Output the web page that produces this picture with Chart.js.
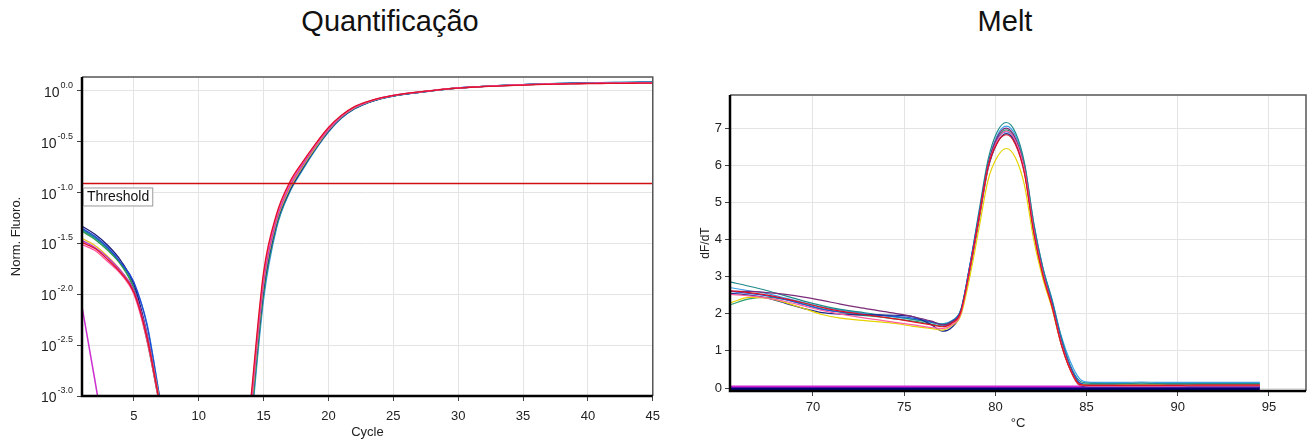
<!DOCTYPE html>
<html><head><meta charset="utf-8">
<script src="https://cdn.jsdelivr.net/npm/chart.js@4.4.1/dist/chart.umd.min.js"></script>
<style>
html,body{margin:0;padding:0;background:#fff;width:1314px;height:443px;overflow:hidden;font-family:"Liberation Sans",Arial,sans-serif;}
#c1{position:absolute;left:0;top:0;}
#c2{position:absolute;left:690px;top:0;}
.title{position:absolute;top:4px;font-size:29px;line-height:34px;color:#111;transform:translateX(-50%);white-space:nowrap;}
</style></head><body>
<div class="title" style="left:390px">Quantificação</div>
<div class="title" style="left:1005px">Melt</div>
<canvas id="c1" width="668" height="443"></canvas>
<canvas id="c2" width="624" height="443"></canvas>
<script>
// ---------- Quantificação (log10 of normalised fluorescence per cycle) ----------
const cycles = [1,2,3,4,5,6,7,8,9,10,11,12,13,14,15,16,17,18,19,20,21,22,23,24,25,26,27,28,29,30,31,32,33,34,35,36,37,38,39,40,41,42,43,44,45];
const cycleTicks = [5,10,15,20,25,30,35,40,45];
const quantTickValues = [-3,-2.5,-2,-1.5,-1,-0.5,0];
const quantTickExponents = ['-3.0','-2.5','-2.0','-1.5','-1.0','-0.5','0.0'];
const thresholdLevel = -0.91;
const thresholdLabel = 'Threshold';

const qRed = [-1.49,-1.55,-1.66,-1.79,-1.98,-2.42,-3.08,null,null,null,null,null,null,-3.05,-1.78,-1.21,-0.9,-0.7,-0.52,-0.36,-0.24,-0.155,-0.105,-0.068,-0.043,-0.024,-0.01,0.004,0.018,0.028,0.036,0.042,0.048,0.053,0.058,0.062,0.065,0.068,0.07,0.072,0.073,0.074,0.075,0.076,0.077];
const qPink = [-1.51,-1.57,-1.68,-1.8,-2.0,-2.45,-3.1,null,null,null,null,null,null,-3.1,-1.82,-1.23,-0.92,-0.71,-0.53,-0.37,-0.245,-0.16,-0.108,-0.07,-0.044,-0.025,-0.01,0.005,0.019,0.03,0.038,0.045,0.05,0.056,0.061,0.065,0.068,0.071,0.073,0.075,0.076,0.077,0.078,0.079,0.08];
const qMagenta = [-1.47,-1.54,-1.64,-1.77,-1.96,-2.4,-3.08,null,null,null,null,null,null,-3.15,-1.87,-1.26,-0.94,-0.73,-0.54,-0.38,-0.25,-0.162,-0.11,-0.071,-0.045,-0.026,-0.011,0.004,0.018,0.029,0.037,0.044,0.05,0.055,0.06,0.064,0.067,0.07,0.072,0.074,0.076,0.077,0.078,0.079,0.08];
const qBlue = [-1.35,-1.43,-1.54,-1.69,-1.88,-2.3,-3.02,null,null,null,null,null,null,-3.2,-1.92,-1.29,-0.97,-0.75,-0.56,-0.39,-0.26,-0.17,-0.115,-0.075,-0.048,-0.028,-0.012,0.003,0.018,0.03,0.038,0.045,0.052,0.057,0.062,0.066,0.07,0.073,0.075,0.077,0.079,0.08,0.082,0.083,0.085];
const qNavy = [-1.33,-1.41,-1.52,-1.67,-1.9,-2.38,-3.05,null,null,null,null,null,null,-3.2,-1.94,-1.3,-0.98,-0.76,-0.565,-0.395,-0.262,-0.172,-0.116,-0.076,-0.049,-0.029,-0.013,0.002,0.017,0.029,0.037,0.044,0.051,0.056,0.061,0.065,0.069,0.072,0.074,0.076,0.078,0.079,0.08,0.081,0.082];
const qTeal = [-1.36,-1.44,-1.55,-1.7,-1.93,-2.42,-3.1,null,null,null,null,null,null,-3.3,-2.0,-1.33,-0.99,-0.77,-0.57,-0.4,-0.265,-0.175,-0.118,-0.077,-0.05,-0.03,-0.014,0.001,0.016,0.028,0.037,0.045,0.052,0.058,0.063,0.067,0.071,0.074,0.077,0.079,0.081,0.083,0.085,0.086,0.088];
const qGreen = [-1.38,-1.46,-1.57,-1.71,-1.95,-2.45,-3.1,null,null,null,null,null,null,-3.25,-1.97,-1.31,-0.98,-0.76,-0.565,-0.395,-0.26,-0.17,-0.115,-0.075,-0.048,-0.028,-0.012,0.003,0.017,0.029,0.037,0.044,0.05,0.055,0.06,0.064,0.068,0.071,0.073,0.075,0.077,0.078,0.079,0.08,0.081];
const qLightBlue = [-1.37,-1.45,-1.56,-1.7,-1.9,-2.28,-3.02,null,null,null,null,null,null,-3.35,-2.05,-1.35,-1.0,-0.78,-0.58,-0.405,-0.27,-0.178,-0.12,-0.079,-0.051,-0.031,-0.015,0.0,0.015,0.027,0.036,0.044,0.051,0.057,0.062,0.067,0.071,0.075,0.078,0.08,0.082,0.084,0.086,0.088,0.09];
const qYellow = [-1.45,-1.52,-1.63,-1.77,-1.97,-2.4,-3.05,null,null,null,null,null,null,-3.2,-1.9,-1.28,-0.96,-0.745,-0.555,-0.385,-0.255,-0.167,-0.113,-0.073,-0.047,-0.027,-0.012,0.003,0.018,0.029,0.037,0.044,0.05,0.055,0.06,0.064,0.067,0.07,0.072,0.074,0.075,0.076,0.077,0.078,0.079];
const qNTC = [-2.12,-2.85,-3.6];

// ---------- Melt (dF/dT vs temperature) ----------
const temps = [65.5,66.5,67.5,68.5,69.5,70.5,71.5,72.5,73.5,74.5,75.5,76.5,77.1,77.6,78.1,78.6,79.1,79.6,80.1,80.6,81.1,81.6,82.1,82.6,83.1,83.6,84.1,84.6,85.1,86,87,88,89,90,91,92,93,94.5];
const tempTicks = [70,75,80,85,90,95];
const meltTickValues = [0,1,2,3,4,5,6,7];

const mTeal = [2.85,2.74,2.62,2.48,2.34,2.22,2.12,2.05,1.98,1.92,1.85,1.77,1.72,1.8,2.1,3.3,4.75,6.15,6.9,7.15,6.88,6.05,4.45,3.25,2.38,1.38,0.62,0.2,0.13,0.12,0.12,0.13,0.12,0.12,0.12,0.12,0.12,0.12];
const mPurple = [2.6,2.6,2.57,2.52,2.45,2.36,2.26,2.17,2.09,2.01,1.92,1.8,1.7,1.78,2.05,3.2,4.6,6.0,6.75,7.0,6.72,5.9,4.3,3.12,2.26,1.26,0.54,0.12,0.07,0.07,0.07,0.07,0.07,0.07,0.07,0.07,0.07,0.07];
const mNavy = [2.55,2.5,2.42,2.28,2.14,2.03,1.99,1.97,1.97,1.96,1.92,1.7,1.53,1.63,2.0,3.15,4.5,5.9,6.6,6.85,6.6,5.8,4.2,3.05,2.2,1.2,0.5,0.08,0.03,0.03,0.03,0.03,0.03,0.03,0.03,0.03,0.03,0.03];
const mYellow = [2.3,2.44,2.42,2.3,2.14,1.98,1.88,1.83,1.79,1.74,1.66,1.6,1.56,1.68,1.95,3.0,4.3,5.6,6.22,6.45,6.2,5.45,4.0,2.95,2.15,1.2,0.5,0.1,0.07,0.07,0.08,0.08,0.08,0.07,0.07,0.07,0.07,0.07];
const mGreen = [2.25,2.4,2.44,2.38,2.26,2.13,2.04,1.97,1.92,1.86,1.8,1.72,1.67,1.76,2.05,3.2,4.6,6.0,6.7,6.95,6.7,5.9,4.3,3.1,2.25,1.28,0.55,0.14,0.1,0.1,0.1,0.1,0.1,0.1,0.1,0.1,0.1,0.1];
const mRed = [2.62,2.57,2.5,2.4,2.29,2.17,2.07,2.0,1.93,1.86,1.78,1.7,1.65,1.74,2.04,3.22,4.58,5.95,6.6,6.82,6.56,5.76,4.2,3.05,2.2,1.2,0.5,0.1,0.07,0.07,0.07,0.07,0.07,0.07,0.08,0.08,0.08,0.08];
const mPink = [2.52,2.48,2.42,2.33,2.21,2.09,1.99,1.91,1.84,1.77,1.7,1.63,1.6,1.7,2.0,3.2,4.56,5.95,6.66,6.92,6.66,5.86,4.26,3.1,2.22,1.22,0.5,0.08,0.05,0.05,0.05,0.05,0.05,0.05,0.06,0.06,0.06,0.06];
const mBlue = [2.6,2.55,2.48,2.38,2.25,2.12,2.05,2.0,1.96,1.93,1.88,1.78,1.7,1.78,2.08,3.3,4.65,6.0,6.7,6.9,6.65,5.85,4.3,3.15,2.3,1.3,0.58,0.15,0.08,0.08,0.08,0.08,0.08,0.08,0.08,0.08,0.08,0.08];
const mLightBlue = [2.7,2.62,2.54,2.42,2.3,2.18,2.1,2.03,1.97,1.91,1.85,1.77,1.73,1.81,2.1,3.3,4.7,6.05,6.8,7.05,6.8,6.0,4.45,3.25,2.4,1.42,0.72,0.26,0.16,0.15,0.15,0.16,0.15,0.15,0.15,0.15,0.15,0.15];
const mNtcMagenta = [0.05,0.05,0.05,0.05,0.05,0.05,0.05,0.05,0.05,0.05,0.05,0.05,0.05,0.05,0.05,0.05,0.05,0.05,0.05,0.05,0.05,0.05,0.05,0.05,0.05,0.05,0.05,0.05,0.05,0.05,0.05,0.05,0.05,0.05,0.05,0.05,0.05,0.05];
const mNtcPurple = [0.02,0.02,0.02,0.02,0.02,0.02,0.02,0.02,0.02,0.02,0.02,0.02,0.02,0.02,0.02,0.02,0.02,0.02,0.02,0.02,0.02,0.02,0.02,0.02,0.02,0.02,0.02,0.02,0.02,0.02,0.02,0.02,0.02,0.02,0.02,0.02,0.02,0.02];
const mNtcNavy = [-0.02,-0.02,-0.02,-0.02,-0.02,-0.02,-0.02,-0.02,-0.02,-0.02,-0.02,-0.02,-0.02,-0.02,-0.02,-0.02,-0.02,-0.02,-0.02,-0.02,-0.02,-0.02,-0.02,-0.02,-0.02,-0.02,-0.02,-0.02,-0.02,-0.02,-0.02,-0.02,-0.02,-0.02,-0.02,-0.02,-0.02,-0.02];

const FONT = '"Liberation Sans", Arial, sans-serif';
Chart.defaults.font.family = FONT;
Chart.defaults.font.size = 13;
Chart.defaults.color = '#222';

function pts(xs, ys) { return ys.map((y, i) => ({x: xs[i], y: y})); }
function line(label, xs, ys, color, w) {
  return {label, data: pts(xs, ys), borderColor: color, backgroundColor: color, borderWidth: w || 1.2,
          pointRadius: 0, fill: false, cubicInterpolationMode: 'monotone', spanGaps: false};
}

const framePlugin = {
  id: 'frame',
  afterDatasetsDraw(chart) {
    const {ctx, chartArea: a} = chart;
    ctx.save();
    ctx.lineWidth = 1.5; ctx.strokeStyle = '#555';
    ctx.beginPath(); ctx.moveTo(a.left, a.top); ctx.lineTo(a.right, a.top); ctx.lineTo(a.right, a.bottom); ctx.stroke();
    ctx.lineWidth = 2.5; ctx.strokeStyle = '#000';
    ctx.beginPath(); ctx.moveTo(a.left, a.top); ctx.lineTo(a.left, a.bottom); ctx.lineTo(a.right, a.bottom); ctx.stroke();
    ctx.restore();
  }
};

const expLabelPlugin = {
  id: 'expLabels',
  afterDraw(chart) {
    const ctx = chart.ctx, ys = chart.scales.y, right = chart.chartArea.left - 9;
    ctx.save();
    ctx.fillStyle = '#222';
    ctx.textAlign = 'left';
    ctx.textBaseline = 'alphabetic';
    quantTickValues.forEach((v, i) => {
      const py = ys.getPixelForValue(v);
      ctx.font = '9px ' + FONT;
      const ew = ctx.measureText(quantTickExponents[i]).width;
      ctx.fillText(quantTickExponents[i], right - ew, py - 3);
      ctx.font = '14px ' + FONT;
      const bw = ctx.measureText('10').width;
      ctx.fillText('10', right - ew - bw - 1, py + 6);
    });
    // threshold label box
    const ty = ys.getPixelForValue(thresholdLevel);
    const a = chart.chartArea;
    ctx.font = '14px ' + FONT;
    const tw = ctx.measureText(thresholdLabel).width;
    ctx.fillStyle = '#fff';
    ctx.fillRect(a.left + 1, ty + 4, tw + 8, 19);
    ctx.strokeStyle = '#999'; ctx.lineWidth = 1;
    ctx.strokeRect(a.left + 1.5, ty + 4.5, tw + 7, 18);
    ctx.fillStyle = '#111';
    ctx.textBaseline = 'middle';
    ctx.fillText(thresholdLabel, a.left + 5, ty + 14);
    ctx.restore();
  }
};

const gridColor = '#e4e4e4';

new Chart(document.getElementById('c1'), {
  type: 'line',
  data: {
    datasets: [
      line('Threshold', [cycles[0], cycles[cycles.length - 1]], [thresholdLevel, thresholdLevel], '#d01010', 1.5),
      line('A1', cycles, qRed, '#e0102a', 1.3),
      line('A2', cycles, qPink, '#ff4f9a', 1.3),
      line('A3', cycles, qMagenta, '#b83cc8', 1.3),
      line('A4', cycles, qYellow, '#e8c020', 1.3),
      line('A5', cycles, qBlue, '#2048d8', 1.3),
      line('A6', cycles, qNavy, '#1c1c7a', 1.3),
      line('A7', cycles, qGreen, '#2e9e4a', 1.3),
      line('A8', cycles, qTeal, '#1f8a8a', 1.3),
      line('A9', cycles, qLightBlue, '#3a9ae0', 1.3),
      line('NTC', cycles, qNTC, '#cc30d0', 1.5)
    ]
  },
  options: {
    responsive: false, animation: false,
    layout: {padding: {top: 77, right: 8, bottom: 0, left: 0}},
    plugins: {legend: {display: false}, tooltip: {enabled: false}, title: {display: false}},
    scales: {
      x: {
        type: 'linear', min: 1, max: 45,
        afterBuildTicks: s => { s.ticks = cycleTicks.map(v => ({value: v})); },
        afterFit: s => { s.height = 47; },
        grid: {color: gridColor, tickColor: '#444', tickLength: 5},
        border: {display: false},
        ticks: {padding: 8, color: '#222', font: {size: 13}},
        title: {display: true, text: 'Cycle', font: {size: 13}, padding: {top: 0, bottom: 3}, color: '#222'}
      },
      y: {
        type: 'linear', min: -3, max: 0.137,
        afterBuildTicks: s => { s.ticks = quantTickValues.map(v => ({value: v})); },
        afterFit: s => { s.width = 82; },
        grid: {color: gridColor, tickColor: '#444', tickLength: 5},
        border: {display: false},
        ticks: {display: false},
        title: {display: true, text: 'Norm. Fluoro.', font: {size: 13}, padding: {top: 9, bottom: 0}, color: '#222'}
      }
    }
  },
  plugins: [framePlugin, expLabelPlugin]
});

new Chart(document.getElementById('c2'), {
  type: 'line',
  data: {
    datasets: [
      line('B1', temps, mRed, '#e01020'),
      line('B2', temps, mPink, '#ff5fa0'),
      line('B3', temps, mYellow, '#e6d200'),
      line('B4', temps, mPurple, '#7a2a78'),
      line('B5', temps, mNavy, '#1a2a8a'),
      line('B6', temps, mBlue, '#2050e0'),
      line('B7', temps, mGreen, '#2aa070'),
      line('B8', temps, mTeal, '#1f8a8a'),
      line('B9', temps, mLightBlue, '#3aa0e8'),
      line('NTC1', temps, mNtcMagenta, '#d020d0', 1.5),
      line('NTC2', temps, mNtcPurple, '#6010b0', 1.5),
      line('NTC3', temps, mNtcNavy, '#000070', 3)
    ]
  },
  options: {
    responsive: false, animation: false,
    layout: {padding: {top: 95, right: 8, bottom: 0, left: 0}},
    plugins: {legend: {display: false}, tooltip: {enabled: false}, title: {display: false}},
    scales: {
      x: {
        type: 'linear', min: 65.45, max: 97.03,
        afterBuildTicks: s => { s.ticks = tempTicks.map(v => ({value: v})); },
        afterFit: s => { s.height = 52; },
        grid: {color: gridColor, tickColor: '#444', tickLength: 5},
        border: {display: false},
        ticks: {padding: 4, color: '#222', font: {size: 13}},
        title: {display: true, text: '°C', font: {size: 13}, padding: {top: 0, bottom: 12}, color: '#222'}
      },
      y: {
        type: 'linear', min: -0.08, max: 7.89,
        afterBuildTicks: s => { s.ticks = meltTickValues.map(v => ({value: v})); },
        afterFit: s => { s.width = 40; },
        grid: {color: gridColor, tickColor: '#444', tickLength: 5},
        border: {display: false},
        ticks: {padding: 3, color: '#222', font: {size: 13}},
        title: {display: true, text: 'dF/dT', font: {size: 12}, padding: {top: 8, bottom: 0}, color: '#222'}
      }
    }
  },
  plugins: [framePlugin]
});
</script>
</body></html>
